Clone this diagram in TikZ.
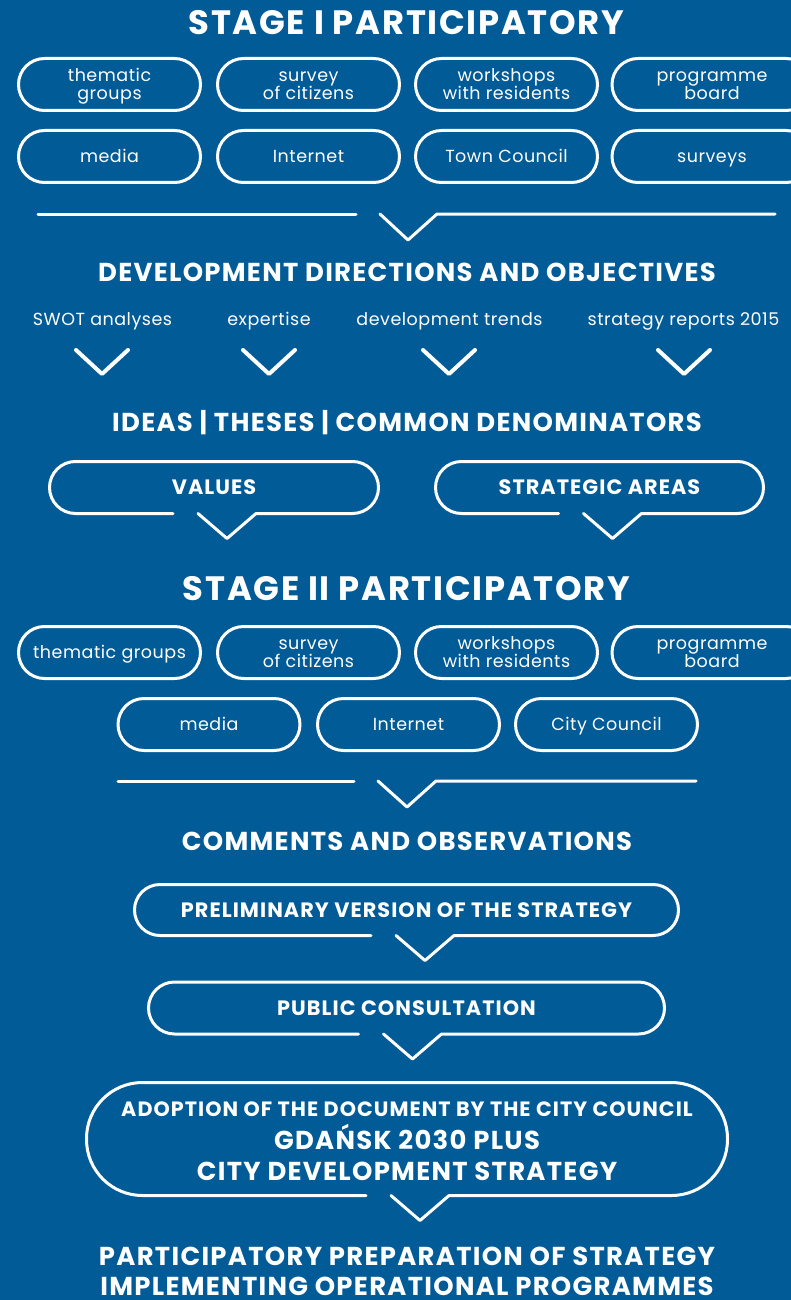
\documentclass[tikz,border=0pt]{standalone}
\usepackage{fontspec}
\setmainfont{Poppins}
\newfontfamily\regfont{Poppins}[LetterSpace=3]
\newfontfamily\capfont{Poppins}[LetterSpace=5]
\usetikzlibrary{calc}
\definecolor{bgblue}{HTML}{005B97}

\tikzset{
  outline/.style={draw=white, line width=3pt, line cap=round, line join=round},
  chev/.style={draw=white, line width=4pt, line cap=round, line join=round},
  pill/.style={outline, rounded corners=26pt, minimum width=182pt, minimum height=52pt,
    inner sep=0pt, outer sep=0pt, text=white, align=center, text height=12.5pt, text depth=0pt,
    font=\regfont\fontsize{17.5}{18}\selectfont},
  twoline/.style={text height=30.5pt},
  boxtext/.style={inner sep=0pt, outer sep=0pt, text=white, align=center,
    font=\capfont\bfseries\fontsize{20.8}{24}\selectfont},
  title/.style={text=white, inner sep=0pt, anchor=base, font=\capfont\bfseries\fontsize{33.8}{40}\selectfont},
  heading/.style={text=white, inner sep=0pt, anchor=base, font=\capfont\bfseries\fontsize{25.9}{30}\selectfont},
  small/.style={text=white, inner sep=0pt, anchor=base, font=\regfont\fontsize{17.5}{20}\selectfont},
  boxline/.style={text=white, inner sep=0pt, anchor=base, font=\capfont\bfseries\fontsize{20.7}{24}\selectfont},
}

% outline of a rounded box whose lower edge opens into a V-shaped tail
% #1 node name, #2 tail offset from the node centre, #3 corner radius
\newcommand\tailbox[3]{%
  \draw[outline, rounded corners=#3] ($(#1.south)+(#2-54,0)$) -- (#1.south west)
    -- (#1.north west) -- (#1.north east) -- (#1.south east) -- ($(#1.south)+(#2+29,0)$);
  \draw[outline] ($(#1.south)+(#2+29,0)$) -- ($(#1.south)+(#2,25)$) -- ($(#1.south)+(#2-29,0)$);
}

\begin{document}
\begin{tikzpicture}[x=1pt, y=-1pt]
\useasboundingbox (0,0) rectangle (791,1300);
\fill[bgblue] (0,0) rectangle (791,1300);

% ---- stage I ----
\node[title] (st1) at (406.5,35) {STAGE I PARTICIPATORY};

\node[pill, twoline] (a1) at (109.5,84.5) {thematic\\groups};
\node[pill, twoline] (a2) at (308.5,84.5) {survey\\of citizens};
\node[pill, twoline] (a3) at (506.5,84.5) {workshops\\with residents};
\node[pill, twoline, minimum width=200pt] (a4) at (712,84.5) {programme\\board};
\node[pill] (b1) at (109.5,156.5) {media};
\node[pill] (b2) at (308.5,156.5) {Internet};
\node[pill] (b3) at (506.5,156.5) {Town Council};
\node[pill, minimum width=200pt] (b4) at (712,156.5) {surveys};

% separator with a V
\coordinate (s1a) at (38,214);
\coordinate (s1b) at (356,214);
\coordinate (s1c) at (380,214);
\coordinate (s1v) at (408,240);
\coordinate (s1d) at (437,214);
\coordinate (s1e) at (775,214);
\draw[outline] (s1a) -- (s1b);
\draw[outline] (s1c) -- (s1v) -- (s1d) -- (s1e);

\node[heading] (dd) at (407,281) {DEVELOPMENT DIRECTIONS AND OBJECTIVES};

\node[small] (l1) at (102.5,325) {SWOT analyses};
\node[small] (l2) at (269,325) {expertise};
\node[small] (l3) at (449.5,325) {development trends};
\node[small] (l4) at (683.5,325) {strategy reports 2015};

\foreach \cx/\nm in {102/c1, 269/c2, 449/c3, 684/c4}{
  \coordinate (\nm l) at (\cx-26,350);
  \coordinate (\nm m) at (\cx,374);
  \coordinate (\nm r) at (\cx+26,350);
  \draw[chev] (\nm l) -- (\nm m) -- (\nm r);
}

\node[heading] (id) at (407,431) {IDEAS | THESES | COMMON DENOMINATORS};

\node[boxtext, minimum width=329pt, minimum height=52pt] (val) at (214,487.5) {VALUES};
\tailbox{val}{13}{26pt}
\node[boxtext, minimum width=328pt, minimum height=52pt] (sa) at (599.5,487.5) {STRATEGIC AREAS};
\tailbox{sa}{13}{26pt}

% ---- stage II ----
\node[title] (st2) at (406.5,600) {STAGE II PARTICIPATORY};

\node[pill] (e1) at (109.5,652.5) {thematic groups};
\node[pill, twoline] (e2) at (308.5,652.5) {survey\\of citizens};
\node[pill, twoline] (e3) at (506.5,652.5) {workshops\\with residents};
\node[pill, twoline, minimum width=200pt] (e4) at (712,652.5) {programme\\board};
\node[pill] (f1) at (209,724.5) {media};
\node[pill] (f2) at (408.5,724.5) {Internet};
\node[pill] (f3) at (606.5,724.5) {City Council};

\coordinate (s2a) at (118,781);
\coordinate (s2b) at (354,781);
\coordinate (s2c) at (378,781);
\coordinate (s2v) at (407,807);
\coordinate (s2d) at (436,781);
\coordinate (s2e) at (696,781);
\draw[outline] (s2a) -- (s2b);
\draw[outline] (s2c) -- (s2v) -- (s2d) -- (s2e);

\node[heading] (co) at (407,850) {COMMENTS AND OBSERVATIONS};

\node[boxtext, minimum width=544pt, minimum height=51pt] (pre) at (406.5,910) {PRELIMINARY VERSION OF THE STRATEGY};
\tailbox{pre}{18.5}{25.5pt}
\node[boxtext, minimum width=516pt, minimum height=52pt] (pub) at (406.5,1008) {PUBLIC CONSULTATION};
\tailbox{pub}{6}{26pt}

\node[inner sep=0pt, outer sep=0pt, minimum width=641pt, minimum height=113pt] (ad) at (407,1139) {};
\tailbox{ad}{13}{56pt}
\node[boxline] (ad1) at (407,1116) {ADOPTION OF THE DOCUMENT BY THE CITY COUNCIL};
\node[heading] (ad2) at (407,1149.5) {GDAŃSK 2030 PLUS};
\node[heading] (ad3) at (407,1180) {CITY DEVELOPMENT STRATEGY};

\node[heading] (fin1) at (407,1265.5) {PARTICIPATORY PREPARATION OF STRATEGY};
\node[heading] (fin2) at (407,1295.5) {IMPLEMENTING OPERATIONAL PROGRAMMES};
\end{tikzpicture}
\end{document}
